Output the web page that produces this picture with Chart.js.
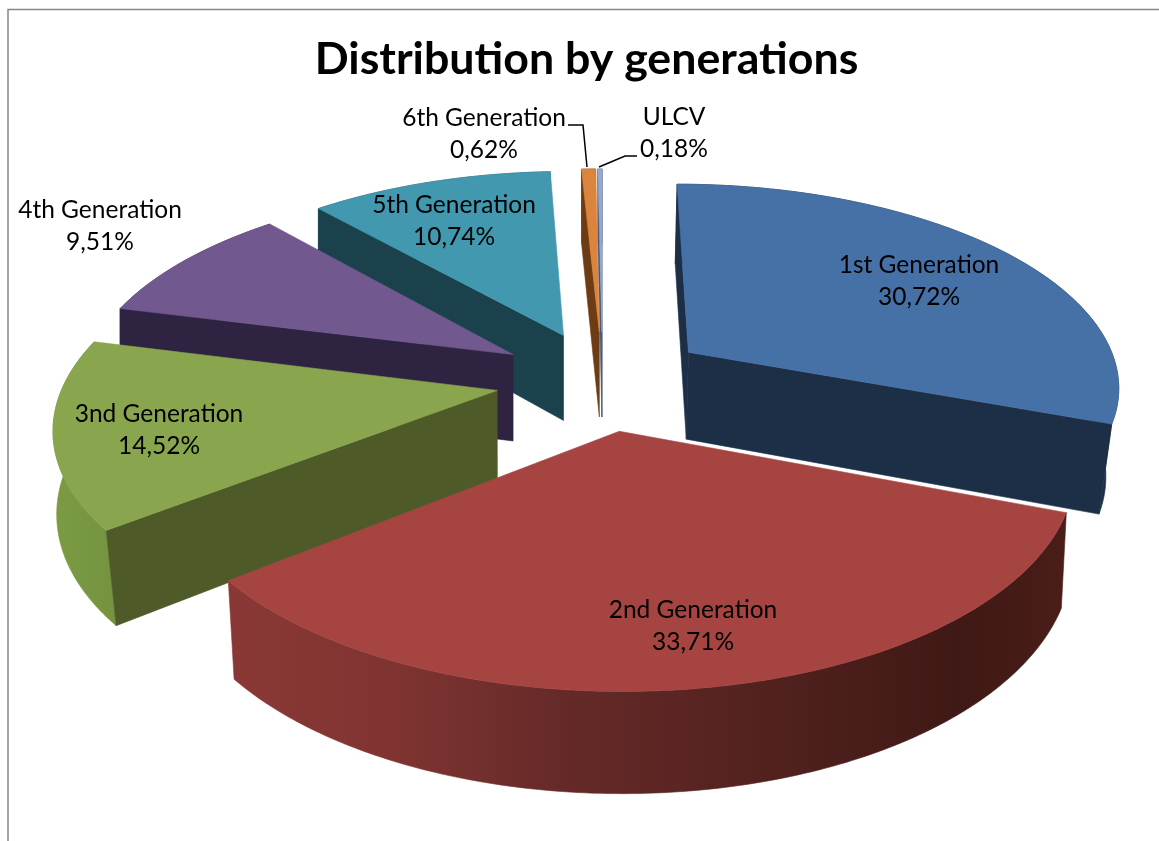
<!DOCTYPE html>
<html>
<head>
<meta charset="utf-8">
<style>html,body{margin:0;padding:0;background:#fff;overflow:hidden}canvas{display:block}</style>
<script src="https://cdn.jsdelivr.net/npm/chart.js@4/dist/chart.umd.min.js"></script>
</head>
<body>
<canvas id="c" width="1159" height="841"></canvas>
<script>
const categories = ['1st Generation','2nd Generation','3nd Generation','4th Generation','5th Generation','6th Generation','ULCV'];
const shares = [30.72,33.71,14.52,9.51,10.74,0.62,0.18];
const topColors = ['#4671a6','#a64441','#89a54e','#71588f','#4198af','#db843d','#93a9cf'];
const wallColors = ['#1c2f47','#4a1d19','#4e5b29','#2e2340','#1b414d','#6e3c14','#4a5a78'];
const rimStops = [
  [[0,'#1c2f47'],[1,'#1c2f47']],
  [[0,'#8a3835'],[0.2,'#7f3431'],[0.4,'#652a28'],[0.68,'#4f201d'],[0.87,'#3f1915'],[1,'#4a1d18']],
  [[0,'#7b9b43'],[1,'#759340']],
  [[0,'#3a2c52'],[1,'#3a2c52']],
  [[0,'#245361'],[1,'#245361']],
  [[0,'#6e3c14'],[1,'#6e3c14']],
  [[0,'#4a5a78'],[1,'#4a5a78']]
];
const labelCentres = [[919,265],[693,610],[159,414],[100,210],[454,205],[484,118],[674,117]];
const labelGap = 32.5;
const leaderLines = {5:[[568,125],[583,125],[587,167]],6:[[637,156],[625,156],[599,167]]};

// Projection of the exploded pie
const view = {shiftX:16, xScale:1.4723, yScale:0.688, persp:0.155, explode:0.247, depth:0.3,
  squeezeFlat:[0.025,0,0,0,0,0.004,0.004], squeezeNear:[0,0.018,0.03,0,0,0,0]};

function makeProjector(arc,i){
  const R=arc.outerRadius*view.xScale, A=arc.outerRadius*view.yScale, H=arc.outerRadius*view.depth;
  return (X,Z,low)=>{
    const s=1/(1-view.persp*Z);
    let x=R*X*s, y=A*Z*s;
    if(low){
      const c=1-view.squeezeFlat[i]-view.squeezeNear[i]*Math.max(Z,0);
      x*=c;y=y*c+H*s;
    }
    return [arc.x+view.shiftX+x,arc.y+y];
  };
}
function poly(ctx,pts,fill){
  ctx.beginPath();
  pts.forEach((p,i)=>i?ctx.lineTo(p[0],p[1]):ctx.moveTo(p[0],p[1]));
  ctx.closePath();
  ctx.fillStyle=fill;ctx.fill();
  ctx.strokeStyle=fill;ctx.lineWidth=0.6;ctx.stroke();
}
function shoelace(q){
  let a=0;
  q.forEach((p,i)=>{const n=q[(i+1)%q.length];a+=p[0]*n[1]-n[0]*p[1];});
  return a;
}
const pie3d={
  id:'pie3d',
  beforeDraw(chart){
    const ctx=chart.ctx;
    ctx.save();
    ctx.fillStyle='#fff';ctx.fillRect(0,0,chart.width,chart.height);
    ctx.strokeStyle='#868686';ctx.lineWidth=1.5;
    ctx.beginPath();ctx.moveTo(8,841);ctx.lineTo(8,9.5);ctx.lineTo(1159,9.5);ctx.stroke();
    ctx.restore();
  },
  beforeDatasetDraw(chart){
    const ctx=chart.ctx, arcs=chart.getDatasetMeta(0).data;
    const order=arcs.map((a,i)=>i).sort((i,j)=>
      Math.sin((arcs[i].startAngle+arcs[i].endAngle)/2)-Math.sin((arcs[j].startAngle+arcs[j].endAngle)/2));
    ctx.save();
    order.forEach(i=>{
      const arc=arcs[i], proj=makeProjector(arc,i);
      const mid=(arc.startAngle+arc.endAngle)/2;
      const dx=Math.cos(mid)*view.explode, dz=Math.sin(mid)*view.explode;
      const n=Math.max(2,Math.ceil((arc.endAngle-arc.startAngle)/0.015));
      const up=[],down=[];
      for(let k=0;k<=n;k++){
        const a=arc.startAngle+(arc.endAngle-arc.startAngle)*k/n;
        up.push(proj(dx+Math.cos(a),dz+Math.sin(a),false));
        down.push(proj(dx+Math.cos(a),dz+Math.sin(a),true));
      }
      const apexUp=proj(dx,dz,false), apexDown=proj(dx,dz,true);
      const xs=up.concat(down).map(p=>p[0]);
      const g=ctx.createLinearGradient(Math.min(...xs),0,Math.max(...xs),0);
      rimStops[i].forEach(s=>g.addColorStop(s[0],s[1]));
      poly(ctx,up.concat(down.slice().reverse()),g);
      const w1=[apexUp,up[0],down[0],apexDown];
      const w2=[up[n],apexUp,apexDown,down[n]];
      [w1,w2].forEach(q=>{if(shoelace(q)<0)poly(ctx,q,wallColors[i]);});
      poly(ctx,[apexUp].concat(up),arc.options.backgroundColor);
    });
    ctx.restore();
    return false;
  },
  afterDatasetsDraw(chart){
    const ctx=chart.ctx, values=chart.data.datasets[0].data;
    ctx.save();
    ctx.strokeStyle='#000';ctx.lineWidth=1.5;
    Object.values(leaderLines).forEach(l=>{
      ctx.beginPath();l.forEach((p,i)=>i?ctx.lineTo(p[0],p[1]):ctx.moveTo(p[0],p[1]));ctx.stroke();
    });
    ctx.fillStyle='#000';ctx.textAlign='center';ctx.textBaseline='middle';
    ctx.font='24.5px Lato, "Open Sans", sans-serif';
    chart.data.labels.forEach((t,i)=>{
      const [x,y]=labelCentres[i];
      ctx.fillText(t,x,y);
      ctx.fillText(values[i].toFixed(2).replace('.',',')+'%',x,y+labelGap);
    });
    ctx.restore();
  }
};
new Chart(document.getElementById('c'),{
  type:'pie',
  data:{labels:categories,datasets:[{data:shares,backgroundColor:topColors,borderWidth:0}]},
  plugins:[pie3d],
  options:{
    responsive:false,animation:false,
    layout:{padding:{top:10,bottom:167.3,left:14,right:0}},
    plugins:{
      legend:{display:false},
      tooltip:{enabled:false},
      title:{display:true,text:'Distribution by generations',color:'#000',
        font:{family:'Lato, "Open Sans", sans-serif',size:44.7,weight:'bold',lineHeight:1.2},
        padding:{top:22.7,bottom:0}}
    }
  }
});
</script>
</body>
</html>
